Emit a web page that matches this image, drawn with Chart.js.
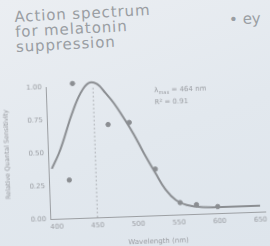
<!DOCTYPE html>
<html>
<head>
<meta charset="utf-8">
<script src="https://cdn.jsdelivr.net/npm/chart.js@4.4.1/dist/chart.umd.min.js"></script>
<style>
html, body { margin: 0; padding: 0; }
body {
    width: 270px; height: 246px; overflow: hidden; position: relative;
    background: linear-gradient(160deg, #ebeef2 0%, #e2e8ee 55%, #dee5ec 100%);
    font-family: "DejaVu Sans", sans-serif;
}
#title {
    position: absolute; left: 14px; top: 10px;
    font-size: 15px; line-height: 15px; letter-spacing: 0.9px;
    color: #9a9ea3; transform: rotate(-3deg); transform-origin: left top;
}
#bullet { position: absolute; left: 229px; top: 10px; font-size: 15px; color: #9a9ea3; transform: rotate(-3deg); }
#wrap { position: absolute; left: 0; top: 0; width: 270px; height: 246px; transform: rotate(-2deg); }
</style>
</head>
<body>
<div id="title">Action spectrum<br>for melatonin<br>suppression</div>
<div id="bullet">• ey</div>
<div id="wrap"><canvas id="chart" width="270" height="246"></canvas></div>
<script>
// fitted curve
const curveNm = [396, 405, 412, 423, 435, 445, 455, 465, 475, 486, 498, 510, 523, 535, 547, 560, 580, 620, 650];
const curveVal = [0.38, 0.49, 0.60, 0.79, 0.95, 1.02, 1.01, 0.94, 0.86, 0.75, 0.62, 0.47, 0.32, 0.19, 0.11, 0.07, 0.05, 0.045, 0.045];

// measured points
const pointNm = [425, 417, 467, 493, 523, 552, 572, 598];
const pointVal = [1.02, 0.29, 0.70, 0.71, 0.35, 0.09, 0.07, 0.05];

// dotted peak marker
const peakNm = 450;

const xTicks = [400, 450, 500, 550, 600, 650];
const yTicks = [0, 0.25, 0.5, 0.75, 1];

const grey = '#8b8e92';
const textGrey = '#9a9da2';

const labelPlugin = {
    id: 'fitLabel',
    afterDraw(chart) {
        const { ctx, scales: { x, y } } = chart;
        const px = x.getPixelForValue(525);
        const py = y.getPixelForValue(0.93);
        ctx.save();
        ctx.fillStyle = textGrey;
        ctx.textBaseline = 'alphabetic';
        ctx.font = '7px "DejaVu Sans"';
        ctx.fillText('λ', px, py);
        let w = ctx.measureText('λ').width;
        ctx.font = '5px "DejaVu Sans"';
        ctx.fillText('max', px + w, py + 2);
        w += ctx.measureText('max').width;
        ctx.font = '7px "DejaVu Sans"';
        ctx.fillText(' = 464 nm', px + w, py);
        ctx.fillText('R² = 0.91', px, y.getPixelForValue(0.84));
        ctx.restore();
    }
};

new Chart(document.getElementById('chart'), {
    type: 'line',
    data: {
        datasets: [
            {
                data: curveNm.map((v, i) => ({ x: v, y: curveVal[i] })),
                borderColor: grey, borderWidth: 2, pointRadius: 0,
                tension: 0.4, clip: false
            },
            {
                data: pointNm.map((v, i) => ({ x: v, y: pointVal[i] })),
                showLine: false, pointRadius: 2.2,
                backgroundColor: grey, borderColor: grey, clip: false
            },
            {
                data: [{ x: peakNm, y: 0 }, { x: peakNm, y: 1 }],
                borderColor: '#a3a6aa', borderWidth: 1, borderDash: [1.5, 2.5],
                pointRadius: 0
            }
        ]
    },
    options: {
        responsive: false,
        animation: false,
        layout: { padding: { top: 84, right: 8, left: 0, bottom: 0 } },
        plugins: { legend: { display: false }, tooltip: { enabled: false } },
        scales: {
            x: {
                type: 'linear', min: 392, max: 656,
                afterBuildTicks: s => { s.ticks = xTicks.map(v => ({ value: v })); },
                afterFit: s => { s.height = 30; },
                grid: { color: 'transparent', drawTicks: false },
                border: { color: '#9c9fa3', width: 1 },
                ticks: { color: textGrey, font: { size: 7, family: 'DejaVu Sans' }, padding: 4, maxRotation: 0 },
                title: { display: true, text: 'Wavelength (nm)', color: textGrey, font: { size: 7, family: 'DejaVu Sans' }, padding: { top: 1, bottom: 0 } }
            },
            y: {
                min: 0, max: 1,
                afterBuildTicks: s => { s.ticks = yTicks.map(v => ({ value: v })); },
                afterFit: s => { s.width = 47; },
                grid: { color: 'transparent', drawTicks: false },
                border: { color: '#9c9fa3', width: 1 },
                ticks: { color: textGrey, font: { size: 7, family: 'DejaVu Sans' }, padding: 4, callback: v => v.toFixed(2) },
                title: { display: true, text: 'Relative Quantal Sensitivity', color: textGrey, font: { size: 6.5, family: 'DejaVu Sans' }, padding: 2 }
            }
        }
    },
    plugins: [labelPlugin]
});
</script>
</body>
</html>
